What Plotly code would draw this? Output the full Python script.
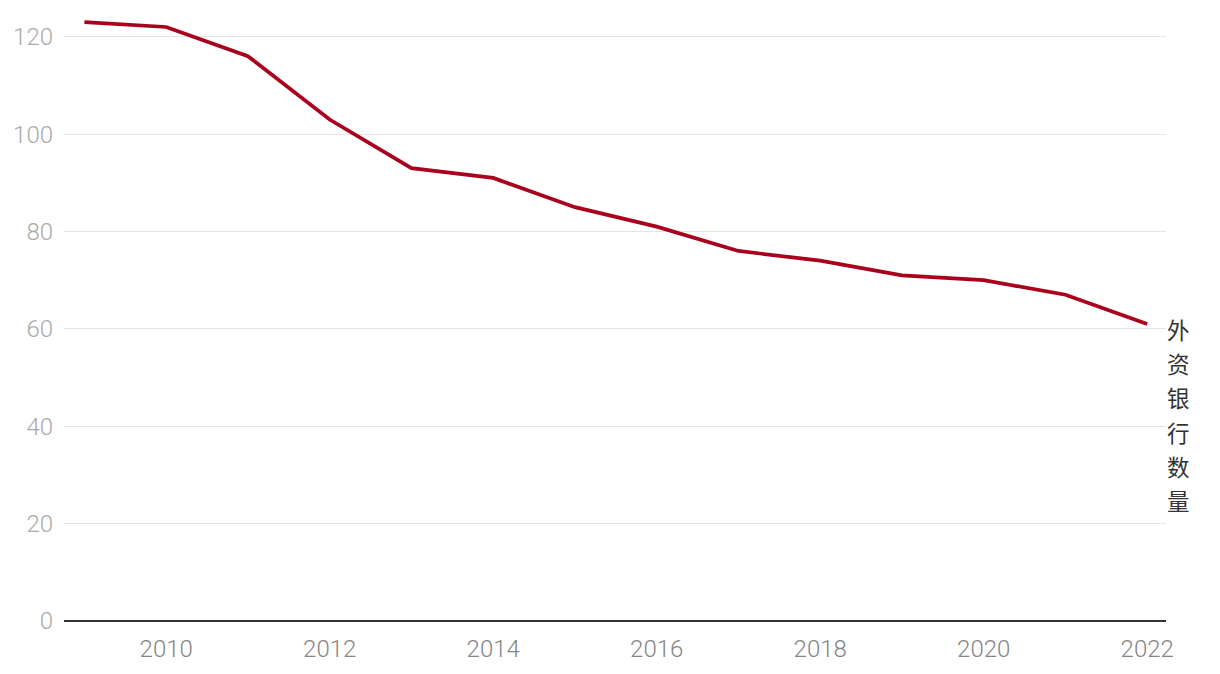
import plotly.graph_objects as go

years = [2009, 2010, 2011, 2012, 2013, 2014, 2015, 2016, 2017, 2018, 2019, 2020, 2021, 2022]
banks = [123, 122, 116, 103, 93, 91, 85, 81, 76, 74, 71, 70, 67, 61]
label = "外资银行数量"
y_ticks = [0, 20, 40, 60, 80, 100, 120]
x_ticks = [2010, 2012, 2014, 2016, 2018, 2020, 2022]

CJK = "Noto Sans CJK SC, Noto Sans, sans-serif"
NUM = "Roboto, Noto Sans, sans-serif"

fig = go.Figure()
fig.add_trace(go.Scatter(
    x=years, y=banks, mode="lines",
    line=dict(color="#aa001e", width=3.7),
    hoverinfo="skip", showlegend=False,
))

fig.add_annotation(
    x=1, xref="paper", xanchor="left",
    y=banks[-1], yref="y", yanchor="top",
    text="<br>".join(f"<span style='font-size:22.5px'>{c}</span>" for c in label),
    showarrow=False,
    font=dict(family=CJK, size=26.3, color="#333333"),
    align="left",
    xshift=-1, yshift=13,
)

fig.update_layout(
    width=1220, height=674,
    margin=dict(l=64, r=54, t=8, b=53),
    paper_bgcolor="white", plot_bgcolor="white",
    font=dict(family=NUM),
    xaxis=dict(
        range=[2008.75, 2022.23],
        tickmode="array", tickvals=x_ticks,
        ticktext=[str(t) for t in x_ticks],
        showgrid=False, zeroline=False, showline=False,
        tickfont=dict(family=NUM, size=24, color="#858585", weight=300),
        ticks="", ticklabelstandoff=11,
    ),
    yaxis=dict(
        range=[0, 125.9],
        tickmode="array", tickvals=y_ticks,
        ticktext=[str(t) for t in y_ticks],
        showgrid=True, gridcolor="#e4e4e4", gridwidth=1,
        zeroline=True, zerolinecolor="#333333", zerolinewidth=2,
        showline=False,
        tickfont=dict(family=NUM, size=24, color="#aaaaaa", weight=300),
        ticks="", ticklabelstandoff=10,
    ),
)

fig.write_html("out.html")
